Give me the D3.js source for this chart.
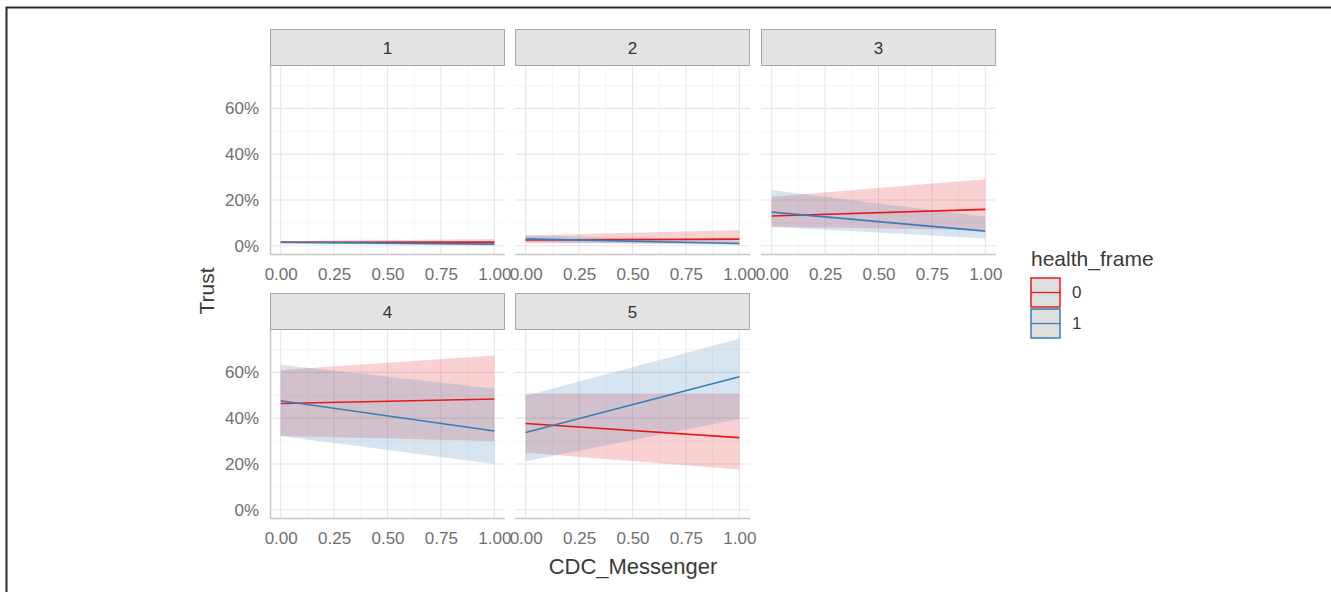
<!DOCTYPE html>
<html>
<head>
<meta charset="utf-8">
<script src="https://cdn.jsdelivr.net/npm/d3@7"></script>
<style>
  body { margin: 0; background: #fff; }
  svg { font-family: "Liberation Sans", Arial, sans-serif; }
</style>
</head>
<body>
<svg id="chart" width="1331" height="592"></svg>
<script>
// facet labels, groups and ticks
var panels = ["1", "2", "3", "4", "5"];
var groups = ["0", "1"];
var xTicks = [0, 0.25, 0.5, 0.75, 1];
var xMinor = [0.125, 0.375, 0.625, 0.875];
var yTicks = [0, 0.2, 0.4, 0.6];
var yMinor = [0.1, 0.3, 0.5, 0.7];
var cdcX = [0, 1];

// health_frame = 0, values at CDC_Messenger = 0 and 1, per panel
var fit0 = [[0.015, 0.016], [0.025, 0.029], [0.130, 0.159], [0.464, 0.484], [0.377, 0.315]];
var lo0  = [[0.010, 0.004], [0.012, 0.010], [0.083, 0.069], [0.322, 0.300], [0.249, 0.176]];
var hi0  = [[0.020, 0.030], [0.045, 0.069], [0.214, 0.290], [0.610, 0.674], [0.508, 0.508]];
// health_frame = 1
var fit1 = [[0.015, 0.007], [0.030, 0.010], [0.147, 0.064], [0.476, 0.344], [0.337, 0.581]];
var lo1  = [[0.010, 0.001], [0.015, 0.003], [0.083, 0.032], [0.322, 0.200], [0.212, 0.396]];
var hi1  = [[0.020, 0.015], [0.045, 0.022], [0.243, 0.127], [0.633, 0.530], [0.498, 0.747]];

var colors = { "0": "#E41A1C", "1": "#377EB8" };

var svg = d3.select("#chart");
var colLeft = [270, 515, 761];
var rowTop = [66, 330];
var pw = 235, ph = 188, stripH = 36;

var xs = d3.scaleLinear().domain([-0.05, 1.05]).range([0, pw]);
var ys = d3.scaleLinear().domain([-0.036, 0.785]).range([ph, 0]);

var area = d3.area()
    .x(function(d) { return xs(d.x); })
    .y0(function(d) { return ys(d.lo); })
    .y1(function(d) { return ys(d.hi); });
var line = d3.line()
    .x(function(d) { return xs(d.x); })
    .y(function(d) { return ys(d.y); });

// outer frame (cropped on right and bottom)
svg.append("rect")
    .attr("x", 6.5).attr("y", 7.5)
    .attr("width", 1500).attr("height", 800)
    .attr("fill", "none").attr("stroke", "#2a2a2a").attr("stroke-width", 2);

panels.forEach(function(p, i) {
    var col = i % 3, row = Math.floor(i / 3);
    var g = svg.append("g")
        .attr("transform", "translate(" + colLeft[col] + "," + rowTop[row] + ")");

    // strip
    g.append("rect")
        .attr("x", 0.5).attr("y", -stripH - 0.5)
        .attr("width", pw - 1).attr("height", stripH)
        .attr("fill", "#e3e3e3").attr("stroke", "#a8a8a8").attr("stroke-width", 1);
    g.append("text")
        .attr("x", pw / 2).attr("y", -stripH / 2)
        .attr("text-anchor", "middle").attr("dominant-baseline", "central")
        .attr("font-size", 17).attr("fill", "#333")
        .text(p);

    // grid
    g.selectAll(".ymin").data(yMinor).enter().append("line")
        .attr("x1", 0).attr("x2", pw)
        .attr("y1", function(d) { return ys(d); }).attr("y2", function(d) { return ys(d); })
        .attr("stroke", "#f2f2f2").attr("stroke-width", 0.8);
    g.selectAll(".xmin").data(xMinor).enter().append("line")
        .attr("y1", 0).attr("y2", ph)
        .attr("x1", function(d) { return xs(d); }).attr("x2", function(d) { return xs(d); })
        .attr("stroke", "#f2f2f2").attr("stroke-width", 0.8);
    g.selectAll(".ymaj").data(yTicks).enter().append("line")
        .attr("x1", 0).attr("x2", pw)
        .attr("y1", function(d) { return ys(d); }).attr("y2", function(d) { return ys(d); })
        .attr("stroke", "#e6e6e6").attr("stroke-width", 1.1);
    g.selectAll(".xmaj").data(xTicks).enter().append("line")
        .attr("y1", 0).attr("y2", ph)
        .attr("x1", function(d) { return xs(d); }).attr("x2", function(d) { return xs(d); })
        .attr("stroke", "#e6e6e6").attr("stroke-width", 1.1);

    var sets = [
        { key: "0", fit: fit0[i], lo: lo0[i], hi: hi0[i] },
        { key: "1", fit: fit1[i], lo: lo1[i], hi: hi1[i] }
    ];

    // ribbons
    sets.forEach(function(s) {
        var pts = cdcX.map(function(x, j) { return { x: x, lo: s.lo[j], hi: s.hi[j] }; });
        g.append("path").datum(pts)
            .attr("d", area)
            .attr("fill", colors[s.key]).attr("fill-opacity", 0.2);
    });
    // lines
    sets.forEach(function(s) {
        var pts = cdcX.map(function(x, j) { return { x: x, y: s.fit[j] }; });
        g.append("path").datum(pts)
            .attr("d", line)
            .attr("fill", "none")
            .attr("stroke", colors[s.key]).attr("stroke-width", 1.6);
    });

    // axis lines
    g.append("line")
        .attr("x1", 0).attr("x2", pw).attr("y1", ph + 0.5).attr("y2", ph + 0.5)
        .attr("stroke", "#c6c6c6").attr("stroke-width", 1.5);
    if (col == 0) {
        g.append("line")
            .attr("x1", 0.5).attr("x2", 0.5).attr("y1", 0).attr("y2", ph + 1)
            .attr("stroke", "#c6c6c6").attr("stroke-width", 1.5);
        var yAxis = d3.axisLeft(ys)
            .tickValues(yTicks)
            .tickFormat(d3.format(".0%"))
            .tickSize(0).tickPadding(11);
        var ya = g.append("g").call(yAxis);
        ya.select(".domain").remove();
        ya.selectAll("text").attr("font-size", 17).attr("fill", "#6f6f6f")
            .attr("font-family", null);
    }

    var xAxis = d3.axisBottom(xs)
        .tickValues(xTicks)
        .tickFormat(d3.format(".2f"))
        .tickSize(0).tickPadding(14);
    var xa = g.append("g").attr("transform", "translate(0," + ph + ")").call(xAxis);
    xa.select(".domain").remove();
    xa.selectAll("text").attr("font-size", 17).attr("fill", "#6f6f6f")
        .attr("font-family", null);
});

// axis titles
svg.append("text")
    .attr("x", 633).attr("y", 566)
    .attr("text-anchor", "middle").attr("dominant-baseline", "central")
    .attr("font-size", 22).attr("fill", "#3a3a3a")
    .text("CDC_Messenger");
svg.append("text")
    .attr("transform", "translate(206,291) rotate(-90)")
    .attr("text-anchor", "middle").attr("dominant-baseline", "central")
    .attr("font-size", 21).attr("fill", "#3a3a3a")
    .text("Trust");

// legend
var leg = svg.append("g").attr("transform", "translate(1031,0)");
leg.append("text")
    .attr("x", 0).attr("y", 258)
    .attr("dominant-baseline", "central")
    .attr("font-size", 21).attr("fill", "#3a3a3a")
    .text("health_frame");
groups.forEach(function(k, j) {
    var y0 = 278 + j * 31;
    leg.append("rect")
        .attr("x", 0).attr("y", y0).attr("width", 29).attr("height", 29)
        .attr("fill", "#dedede").attr("stroke", colors[k]).attr("stroke-width", 1.5);
    leg.append("line")
        .attr("x1", 0).attr("x2", 29).attr("y1", y0 + 14.5).attr("y2", y0 + 14.5)
        .attr("stroke", colors[k]).attr("stroke-width", 1.3);
    leg.append("text")
        .attr("x", 41).attr("y", y0 + 14.5)
        .attr("dominant-baseline", "central")
        .attr("font-size", 17).attr("fill", "#3a3a3a")
        .text(k);
});
</script>
</body>
</html>
